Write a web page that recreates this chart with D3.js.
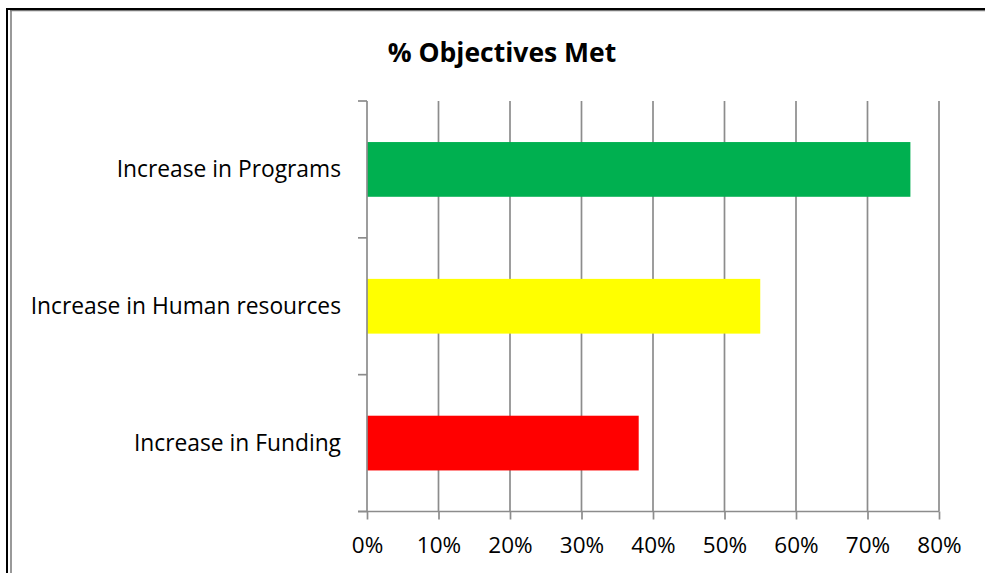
<!DOCTYPE html>
<html>
<head>
<meta charset="utf-8">
<script src="https://cdn.jsdelivr.net/npm/d3@7"></script>
<style>
  html, body { margin: 0; padding: 0; background: #fff; }
  svg { display: block; }
</style>
</head>
<body>
<svg id="chart" width="985" height="573"></svg>
<script>
// Objectives met, per category (share of target reached)
const categories = ["Increase in Programs", "Increase in Human resources", "Increase in Funding"];
const values = [0.76, 0.55, 0.38];
const barColors = ["#00B050", "#FFFF00", "#FF0000"];
const xTicks = [0, 0.1, 0.2, 0.3, 0.4, 0.5, 0.6, 0.7, 0.8];
const titleText = "% Objectives Met";

const svg = d3.select("#chart");
const W = 985, H = 573;
const font = "'Open Sans', 'Liberation Sans', sans-serif";
const gridColor = "#8c8c8c";

// outer frame: heavy black edge with a thin grey inner edge
svg.append("line").attr("x1", 7).attr("x2", 7).attr("y1", 8).attr("y2", H)
  .attr("stroke", "#000").attr("stroke-width", 2);
svg.append("line").attr("x1", 6).attr("x2", W).attr("y1", 9).attr("y2", 9)
  .attr("stroke", "#000").attr("stroke-width", 2);
svg.append("line").attr("x1", 11).attr("x2", 11).attr("y1", 10).attr("y2", H)
  .attr("stroke", "#777").attr("stroke-width", 1.5);
svg.append("line").attr("x1", 10).attr("x2", W).attr("y1", 10.7).attr("y2", 10.7)
  .attr("stroke", "#777").attr("stroke-width", 1.2);

const plot = { left: 367, right: 939, top: 101, bottom: 511.5 };

const x = d3.scaleLinear().domain([0, 0.8]).range([plot.left, plot.right]);
const y = d3.scaleBand().domain(categories).range([plot.top, plot.bottom])
  .paddingInner(0.6).paddingOuter(0.3);

// vertical gridlines
svg.append("g").selectAll("line").data(xTicks.slice(1)).join("line")
  .attr("x1", d => x(d)).attr("x2", d => x(d))
  .attr("y1", plot.top).attr("y2", plot.bottom)
  .attr("stroke", gridColor).attr("stroke-width", 1.7);

// bars
svg.append("g").selectAll("rect").data(categories).join("rect")
  .attr("x", x(0))
  .attr("y", d => y(d))
  .attr("width", (d, i) => x(values[i]) - x(0))
  .attr("height", y.bandwidth())
  .attr("fill", (d, i) => barColors[i]);

// x axis
const xAxis = d3.axisBottom(x).tickValues(xTicks)
  .tickFormat(d3.format(".0%")).tickSize(8).tickSizeOuter(0).tickPadding(18);
const gx = svg.append("g").attr("transform", `translate(0,${plot.bottom})`).call(xAxis);
gx.select(".domain").remove();
gx.append("line").attr("x1", plot.left - 9).attr("x2", plot.right).attr("y1", 0).attr("y2", 0)
  .attr("stroke", gridColor).attr("stroke-width", 1.7);
gx.selectAll(".tick line").attr("stroke", gridColor).attr("stroke-width", 1.7);
gx.selectAll(".tick text").attr("fill", "#000").attr("font-family", font).attr("font-size", 22.5);

// y axis with ticks at category boundaries
const boundaries = d3.range(categories.length + 1).map(i => plot.top + i * (plot.bottom - plot.top) / categories.length);
const gy = svg.append("g");
gy.append("line").attr("x1", plot.left).attr("x2", plot.left)
  .attr("y1", plot.top).attr("y2", plot.bottom)
  .attr("stroke", gridColor).attr("stroke-width", 1.7);
gy.selectAll(".bt").data(boundaries).join("line").attr("class", "bt")
  .attr("x1", plot.left - 9).attr("x2", plot.left)
  .attr("y1", d => d).attr("y2", d => d)
  .attr("stroke", gridColor).attr("stroke-width", 1.7);
gy.selectAll("text").data(categories).join("text")
  .attr("x", plot.left - 26)
  .attr("y", d => y(d) + y.bandwidth() / 2)
  .attr("dy", "0.35em")
  .attr("text-anchor", "end")
  .attr("font-family", font).attr("font-size", 22.8)
  .attr("fill", "#000")
  .text(d => d);

// title
svg.append("text").attr("x", 502).attr("y", 62)
  .attr("text-anchor", "middle")
  .attr("font-family", font).attr("font-weight", "bold").attr("font-size", 26.5)
  .attr("fill", "#000")
  .text(titleText);
</script>
</body>
</html>
